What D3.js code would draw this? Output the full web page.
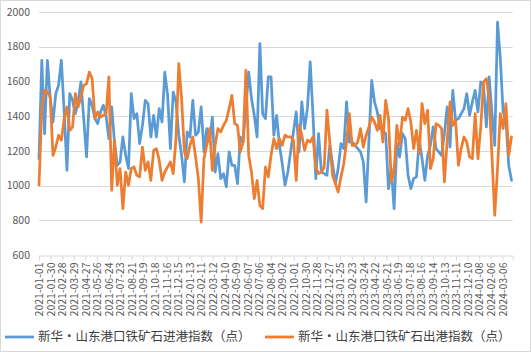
<!DOCTYPE html>
<html>
<head>
<meta charset="utf-8">
<script src="https://cdn.jsdelivr.net/npm/d3@7"></script>
<style>
  body { margin: 0; background: #fff; }
  svg { display: block; }
</style>
</head>
<body>
<div id="chart"></div>
<script>
// weekly observations starting 2021-01-01
const firstDate = "2021-01-01";
const stepDays = 7;
const axisEnd = "2024-04-01";
const tickStepDays = 29;
const yTicks = [600, 800, 1000, 1200, 1400, 1600, 1800, 2000];

const seriesNames = [
  "新华・山东港口铁矿石进港指数（点）",
  "新华・山东港口铁矿石出港指数（点）"
];

// 进港指数
const inbound = [
  1155,1722,1299,1722,1510,1366,1530,1578,1722,1424,1088,1530,1491,1414,1482,1597,1386,1165,1501,1462,
  1386,1357,1424,1462,1400,1270,1453,1251,1117,1136,1280,1174,1098,1530,1386,1414,1242,1347,1491,1472,
  1280,1405,
  1280,1443,1366,1654,1520,1213,1539,1482,1290,1174,1021,1309,1280,1491,1290,1309,1453,1194,1328,1251,
  1395,1078,1184,1040,1069,993,1194,1117,1117,1011,1280,1251,1450,1654,1501,1405,1280,1818,1414,1386,
  1626,1626,1290,
  1405,1232,1126,1002,1078,1194,1309,1424,1194,1482,1328,1443,1712,1405,1040,1299,1078,1069,1059,1232,
  1126,1011,1098,1242,1213,1482,1251,1251,1232,1213,1194,1136,906,1261,1606,1482,1424,1328,1318,1299,
  982,1098,
  867,1242,1165,1299,1270,1059,982,1040,1050,1261,1155,1030,1174,1232,1338,1213,1194,1174,1300,1453,
  1222,1549,1376,1386,1414,1443,1530,1405,1482,1549,1424,1597,1578,1338,1626,1420,1232,1942,1731,1424,
  1380,1117,1030
];

// 出港指数
const outbound = [
  1002,1443,1549,1539,1510,1174,1222,1290,1261,1386,1453,1318,1338,1530,1453,1510,1578,1587,1654,1616,
  1386,1424,1395,1405,1414,1626,973,1261,1002,1098,867,1078,1002,1098,1107,1059,1050,1222,1088,1136,
  1030,1203,
  1213,1146,1030,1078,1107,1136,1069,1270,1702,1501,1194,1155,1232,1280,1165,1040,790,1155,1232,1328,
  1088,1232,1328,1309,1347,1376,1443,1520,1357,1347,1194,1251,1664,1174,1078,925,1030,886,867,1107,
  1050,1174,1270,
  1213,1270,1232,1290,1280,1280,1261,1030,1347,1290,1203,1261,1251,1280,1107,1069,1078,1107,1434,1251,
  1059,1011,963,1050,1126,1251,1414,1232,1232,1251,1328,1222,1290,1338,1395,1366,1318,1405,1251,1491,
  1386,1021,
  1078,1347,1232,1395,1376,1443,1366,1213,1318,1184,1472,1357,1434,1098,1155,1357,1347,1328,1021,1261,
  1482,1347,1376,1117,1213,1280,1251,1165,1155,1414,1155,1338,1597,1616,1501,1174,829,1098,1414,1328,
  1472,1174,1280
];

const colors = ["#5B9BD5", "#ED7D31"];

const W = 531, H = 352;
const parse = d3.timeParse("%Y-%m-%d");
const fmt = d3.timeFormat("%Y-%m-%d");
const t0 = parse(firstDate);
const dates = inbound.map((_, i) => d3.timeDay.offset(t0, i * stepDays));

const svg = d3.select("#chart").append("svg")
  .attr("width", W).attr("height", H)
  .style("font-family", "'Noto Sans CJK SC', 'Liberation Sans', sans-serif");

svg.append("rect")
  .attr("x", 0.5).attr("y", 0.5)
  .attr("width", W - 1).attr("height", H - 1)
  .attr("fill", "#fff").attr("stroke", "#d9d9d9");

const x = d3.scaleTime()
  .domain([t0, parse(axisEnd)])
  .range([39, 512.7]);

const y = d3.scaleLinear()
  .domain([600, 2000])
  .range([255, 12]);

// gridlines
svg.append("g")
  .selectAll("line")
  .data(yTicks.filter(v => v > 600))
  .join("line")
  .attr("x1", x.range()[0]).attr("x2", x.range()[1])
  .attr("y1", d => Math.round(y(d)) + 0.5).attr("y2", d => Math.round(y(d)) + 0.5)
  .attr("stroke", "#d9d9d9").attr("stroke-width", 1);

// y axis labels
svg.append("g")
  .selectAll("text")
  .data(yTicks)
  .join("text")
  .attr("x", 30)
  .attr("y", d => y(d))
  .attr("dy", "0.35em")
  .attr("text-anchor", "end")
  .attr("font-size", "10.5px")
  .attr("fill", "#595959")
  .text(d => d);

// x axis
const tickDates = d3.range(0, 1161, tickStepDays).map(n => d3.timeDay.offset(t0, n));
const xAxis = svg.append("g")
  .attr("transform", `translate(0,${Math.round(y(600)) + 0.5})`)
  .call(d3.axisBottom(x)
    .tickValues(tickDates)
    .tickFormat(fmt)
    .tickSize(5)
    .tickSizeOuter(5));
xAxis.select(".domain").attr("stroke", "#d9d9d9");
xAxis.selectAll(".tick line").attr("stroke", "#d9d9d9");
xAxis.selectAll(".tick text")
  .attr("font-family", "'Noto Sans CJK SC', 'Liberation Sans', sans-serif")
  .attr("font-size", "10.5px")
  .attr("fill", "#595959")
  .attr("transform", "rotate(-90)")
  .attr("text-anchor", "end")
  .attr("x", -7)
  .attr("y", 0)
  .attr("dy", "0.35em");

// lines
const line = d3.line()
  .x((d, i) => x(dates[i]))
  .y(d => y(d));

[inbound, outbound].forEach((vals, k) => {
  svg.append("path")
    .datum(vals)
    .attr("fill", "none")
    .attr("stroke", colors[k])
    .attr("stroke-width", 2.75)
    .attr("stroke-linejoin", "round")
    .attr("stroke-linecap", "round")
    .attr("d", line);
});

// legend
const legendX = [5, 265];
seriesNames.forEach((name, k) => {
  const g = svg.append("g").attr("transform", `translate(${legendX[k]},337)`);
  g.append("line")
    .attr("x1", 0).attr("x2", 29)
    .attr("stroke", colors[k]).attr("stroke-width", 2.75);
  g.append("text")
    .attr("x", 33)
    .attr("dy", "0.35em")
    .attr("font-size", "12.5px")
    .attr("fill", "#404040")
    .text(name);
});
</script>
</body>
</html>
